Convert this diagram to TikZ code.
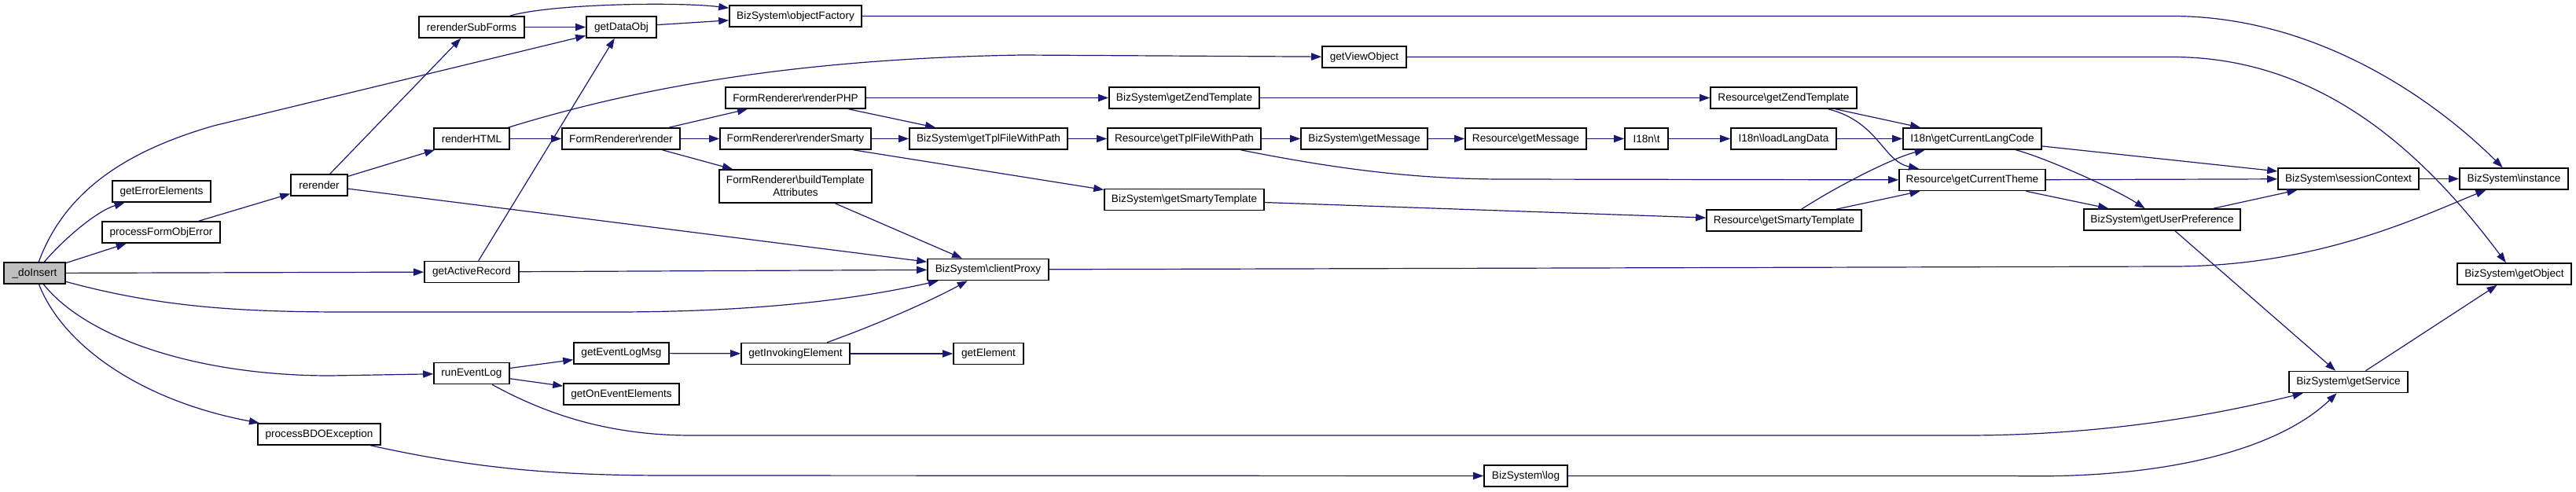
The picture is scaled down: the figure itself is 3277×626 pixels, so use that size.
\documentclass[tikz,border=0pt]{standalone}
\usepackage{fontspec}
\setmainfont{Liberation Sans}
\usepackage{tikz}
\usetikzlibrary{arrows.meta}
\definecolor{edgeblue}{HTML}{191970}
\newcommand{\bsl}{\textbackslash}

\begin{document}
\begin{tikzpicture}[x=0.5pt, y=-0.5pt,
    fn/.style={draw=black, line width=0.8pt, fill=white, minimum height=13.5pt, inner sep=0pt, font=\fontsize{6.8}{8}\selectfont},
    fnroot/.style={fn, fill=black!25},
    call/.style={draw=edgeblue, line width=0.6pt, -{Triangle[length=6.5pt,width=4.6pt]}}]
            \fill[white] (0,0) rectangle (3277,626);
            
            \node[fnroot, minimum width=39pt] (doInsert) at (44,347.5) {\_doInsert};
            \node[fn, minimum width=97pt, minimum height=21pt, align=center] (buildTpl) at (1012,237) {FormRenderer\bsl buildTemplate\\Attributes};
            
            \foreach \n/\x/\y/\w/\lbl in {getErrorElements/205.5/243.5/125/getErrorElements,
                processFormObjError/205/295.5/150/processFormObjError,
                rerender/406/235.5/72/rerender,
                processBDOException/406/552.5/156/processBDOException,
                rerenderSubForms/600/34.5/134/rerenderSubForms,
                renderHTML/600/176.5/96/renderHTML,
                getActiveRecord/600/346/120/getActiveRecord,
                runEventLog/600/475/96/runEventLog,
                getDataObj/790.5/34.5/89/getDataObj,
                render/790/176.5/150/FormRenderer\bsl render,
                getEventLogMsg/790.5/449.5/121/getEventLogMsg,
                getOnEventElements/790.5/501.5/147/getOnEventElements,
                objectFactory/1012/20.5/168/BizSystem\bsl objectFactory,
                renderPHP/1012/124.5/178/FormRenderer\bsl renderPHP,
                renderSmarty/1012/176.5/192/FormRenderer\bsl renderSmarty,
                getInvokingElement/1012/450/138/getInvokingElement,
                bizTplFile/1257.5/176.5/201/BizSystem\bsl getTplFileWithPath,
                clientProxy/1257/343/154/BizSystem\bsl clientProxy,
                getElement/1257.5/450/89/getElement,
                bizZendTpl/1506.5/124.5/191/BizSystem\bsl getZendTemplate,
                resTplFile/1506.5/176.5/195/Resource\bsl getTplFileWithPath,
                bizSmartyTpl/1506.5/254/203/BizSystem\bsl getSmartyTemplate,
                getViewObject/1735.5/72.5/107/getViewObject,
                bizMessage/1735.5/176.5/161/BizSystem\bsl getMessage,
                resMessage/1941/176.5/154/Resource\bsl getMessage,
                log/1941/605.5/106/BizSystem\bsl log,
                i18nT/2094.5/176.5/55/I18n\bsl t,
                loadLangData/2269/176.5/134/I18n\bsl loadLangData,
                resZendTpl/2269/124.5/186/Resource\bsl getZendTemplate,
                resSmartyTpl/2269.5/280.5/197/Resource\bsl getSmartyTemplate,
                langCode/2509/176.5/176/I18n\bsl getCurrentLangCode,
                curTheme/2509/229/186/Resource\bsl getCurrentTheme,
                userPref/2750.5/279.5/199/BizSystem\bsl getUserPreference,
                sessionCtx/2987.5/227.5/179/BizSystem\bsl sessionContext,
                getService/2987.5/486/151/BizSystem\bsl getService,
                instance/3198/227.5/138/BizSystem\bsl instance,
                getObject/3198.5/348.5/145/BizSystem\bsl getObject} {
                \node[fn, minimum width=\w*0.5pt] (\n) at (\x,\y) {\lbl};
            }
            
            \foreach \a/\b in {doInsert/getActiveRecord, doInsert/processFormObjError,
                processFormObjError/rerender, rerender/rerenderSubForms, rerender/renderHTML,
                rerender/clientProxy, rerenderSubForms/getDataObj, getDataObj/objectFactory,
                renderHTML/render, getActiveRecord/getDataObj, getActiveRecord/clientProxy,
                render/renderPHP, render/renderSmarty, render/buildTpl,
                renderPHP/bizTplFile, renderPHP/bizZendTpl, renderSmarty/bizTplFile,
                renderSmarty.-11/bizSmartyTpl.173, buildTpl/clientProxy,
                bizTplFile/resTplFile, bizZendTpl/resZendTpl, resTplFile/bizMessage,
                bizSmartyTpl/resSmartyTpl, bizMessage/resMessage, resMessage/i18nT,
                i18nT/loadLangData, loadLangData/langCode, resZendTpl/langCode,
                resSmartyTpl/curTheme, langCode/sessionCtx, curTheme/sessionCtx,
                curTheme/userPref, userPref/sessionCtx, userPref/getService,
                sessionCtx/instance, getService/getObject,
                runEventLog/getEventLogMsg, runEventLog/getOnEventElements,
                getEventLogMsg/getInvokingElement, getInvokingElement/getElement} {
                \draw[call] (\a) -- (\b);
            }
            
            % bent calls
            \draw[call] (doInsert) .. controls (80,250) and (150,195) .. (272,160) -- (getDataObj);
            \draw[call] (doInsert) .. controls (85,300) and (125,268) .. (getErrorElements);
            \draw[call] (doInsert) .. controls (200,390) and (300,397) .. (440,397) -- (780,397) .. controls (950,397) and (1080,383) .. (clientProxy);
            \draw[call] (doInsert) .. controls (110,430) and (250,478) .. (420,478) -- (runEventLog);
            \draw[call] (doInsert) .. controls (80,440) and (180,510) .. (processBDOException);
            \draw[call] (rerenderSubForms) .. controls (700,5) and (860,2) .. (objectFactory);
            \draw[call] (renderHTML) .. controls (800,115) and (1000,75) .. (1300,70) -- (getViewObject);
            \draw[call] (getInvokingElement) .. controls (1110,415) and (1180,385) .. (clientProxy);
            \draw[call] (resTplFile) .. controls (1700,215) and (1800,228) .. (1914,228) -- (curTheme);
            \draw[call] (resZendTpl) .. controls (2390,155) and (2395,205) .. (curTheme);
            \draw[call] (resSmartyTpl) .. controls (2340,235) and (2410,200) .. (langCode);
            \draw[call] (langCode) .. controls (2600,200) and (2690,240) .. (userPref);
            \draw[call] (clientProxy) -- (2763,339) .. controls (2950,339) and (3080,275) .. (instance);
            \draw[call] (objectFactory) -- (2763,20.5) .. controls (2950,20.5) and (3100,130) .. (instance);
            \draw[call] (getViewObject) -- (2763,72.5) .. controls (2950,72.5) and (3080,190) .. (getObject);
            \draw[call] (runEventLog) .. controls (700,530) and (780,554) .. (880,554) -- (2500,554) .. controls (2700,554) and (2850,520) .. (getService);
            \draw[call] (processBDOException) .. controls (600,595) and (700,605) .. (850,605) -- (log);
            \draw[call] (log) -- (2560,605.5) .. controls (2760,610) and (2900,570) .. (getService);
            
        \end{tikzpicture}
\end{document}
